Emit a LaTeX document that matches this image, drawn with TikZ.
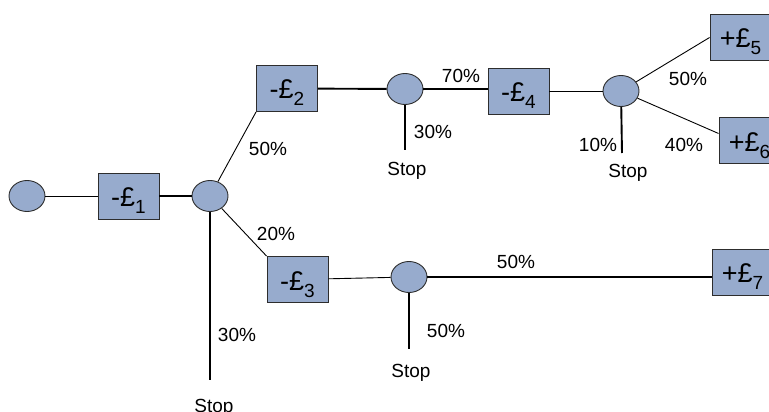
\documentclass[tikz,border=0pt]{standalone}
\usepackage{fontspec}
\setmainfont{Liberation Sans}
\usetikzlibrary{shapes.geometric}
\definecolor{nodefill}{RGB}{151,171,205}
\definecolor{edgegray}{RGB}{45,45,45}
% lowered index after the pound sign
\newcommand\moneysub[1]{\raisebox{-7pt}{\fontsize{19}{19}\selectfont #1}}

\begin{document}
\begin{tikzpicture}[x=1pt,y=-1pt,
  outcome/.style={ellipse, draw=edgegray, line width=0.9pt, fill=nodefill,
    minimum width=36pt, minimum height=31pt, inner sep=0pt},
  money/.style={rectangle, draw=edgegray, line width=0.9pt, fill=nodefill,
    minimum width=61pt, minimum height=46pt, inner sep=0pt,
    text height=21pt, text depth=0pt, font=\fontsize{27}{27}\selectfont},
  prob/.style={anchor=base, inner sep=0pt, font=\fontsize{19}{19}\selectfont},
  thin link/.style={line width=0.9pt},
  thick link/.style={line width=1.9pt},
]
\useasboundingbox (0,0) rectangle (769,412);

% chance points and costs/rewards
\node[outcome] (c0) at (27,196) {};
\node[money]   (b1) at (128.5,196) {-£\moneysub{1}};
\node[outcome] (c1) at (210,196) {};
\node[money]   (b2) at (287,88.5) {-£\moneysub{2}};
\node[outcome] (c2) at (405,89) {};
\node[money]   (b4) at (518.5,91) {-£\moneysub{4}};
\node[outcome] (c3) at (621,91) {};
\node[money]   (b5) at (740.5,37.5) {+£\moneysub{5}};
\node[money]   (b6) at (749.5,140.5) {+£\moneysub{6}};
\node[money]   (b3) at (297.5,279.5) {-£\moneysub{3}};
\node[outcome] (c4) at (409,277) {};
\node[money]   (b7) at (742.5,272) {+£\moneysub{7}};

% ends of the stop branches
\coordinate (s1) at (210,380);
\coordinate (s2) at (405,150);
\coordinate (s3) at (622,153);
\coordinate (s4) at (409,349);

% branches
\draw[thin link]  (c0) -- (b1);
\draw[thick link] (b1) -- (c1);
\draw[thin link]  (c1) -- (b2.south west);
\draw[thin link]  (c1) -- (b3.north west);
\draw[thick link] (c1) -- (s1);
\draw[thick link] (b2) -- (c2);
\draw[thick link] (c2) -- (s2);
\draw[thick link] (c2) -- (c2 -| b4.west);
\draw[thin link]  (b4) -- (c3);
\draw[thick link] (c3) -- (s3);
\draw[thin link]  (c3) -- (b5.west);
\draw[thin link]  (c3) -- ([yshift=7pt]b6.west);
\draw[thin link]  (b3) -- (c4);
\draw[thick link] (c4) -- (s4);
\draw[thick link] (c4) -- (c4 -| b7.west);

% probabilities and stop labels
\node[prob] (p12) at (268,155) {50\%};
\node[prob] (p13) at (276,240) {20\%};
\node[prob] (p1s) at (237,341) {30\%};
\node[prob] (t1)  at (214,412.6) {Stop};
\node[prob] (p24) at (461,82) {70\%};
\node[prob] (p2s) at (433,138) {30\%};
\node[prob] (t2)  at (407,175) {Stop};
\node[prob] (p35) at (688,85) {50\%};
\node[prob] (p36) at (684,151) {40\%};
\node[prob] (p3s) at (598,151) {10\%};
\node[prob] (t3)  at (628,177) {Stop};
\node[prob] (p47) at (516,268) {50\%};
\node[prob] (p4s) at (446,337) {50\%};
\node[prob] (t4)  at (411,377) {Stop};
\end{tikzpicture}
\end{document}
